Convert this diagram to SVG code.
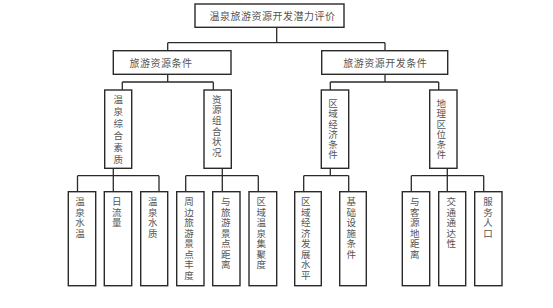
<svg xmlns="http://www.w3.org/2000/svg" width="553" height="308" viewBox="0 0 553 308">
<style>
rect{fill:#fff;stroke:#2a2a2a;stroke-width:1.4}
.c{fill:none;stroke:#2a2a2a;stroke-width:1.3}
text{font-family:"Noto Sans CJK SC","Noto Sans CJK TC",sans-serif;font-size:10px;fill:#555;text-anchor:middle}
.h{letter-spacing:0.5px}
.v{font-size:9.5px;writing-mode:vertical-rl;text-orientation:upright;text-anchor:start}
.v1{letter-spacing:2.5px}
.v2{letter-spacing:1.2px}
.v3{letter-spacing:0.8px}
.v4{letter-spacing:1px}
</style>
<rect x="0" y="0" width="553" height="308" style="fill:#fff;stroke:none"/>
<g id="connectors">
<path class="c" d="M276.7,27.3V42.7M167.7,42.7H385M167.7,42.7V50.7M385,42.7V50.7"/>
<path class="c" d="M167.7,74.3V82M122.3,82H213.3M122.3,82V90M213.3,82V90"/>
<path class="c" d="M385,74.3V82M330.3,82H438.7M330.3,82V90M438.7,82V90"/>
<path class="c" d="M113.3,168.3V175.7M77.5,175.7H159M77.5,175.7V191.7M113.3,175.7V191.7M159,175.7V191.7"/>
<path class="c" d="M222.3,168.3V175.7M185.7,175.7H258.3M185.7,175.7V191.7M222.3,175.7V191.7M258.3,175.7V191.7"/>
<path class="c" d="M330.3,168.3V175.7M303.7,175.7H348.7M303.7,175.7V191.7M348.7,175.7V191.7"/>
<path class="c" d="M447.3,168.3V175.7M411.3,175.7H483.7M411.3,175.7V191.7M447.3,175.7V191.7M483.7,175.7V191.7"/>
</g>
<g id="root"><rect x="195" y="4" width="149" height="23.3"/><text class="h" x="272.5" y="19.5">温泉旅游资源开发潜力评价</text></g>
<g id="n1"><rect x="113.3" y="50.7" width="117.7" height="23.6"/><text class="h" x="161" y="66.5">旅游资源条件</text></g>
<g id="n2"><rect x="321.7" y="50.7" width="126" height="23.6"/><text class="h" x="385.3" y="66.5">旅游资源开发条件</text></g>
<g id="n11"><rect x="104.7" y="90" width="27" height="78.3"/><text class="v v1" x="118.3" y="94.3">温泉综合素质</text></g>
<g id="n12"><rect x="204" y="90" width="27.3" height="78.3"/><text class="v v2" x="216.7" y="94.3">资源组合状况</text></g>
<g id="n21"><rect x="321.3" y="90" width="27.4" height="78.3"/><text class="v v3" x="333" y="98.6">区域经济条件</text></g>
<g id="n22"><rect x="429.7" y="90" width="27.3" height="78.3"/><text class="v v3" x="441.3" y="98.6">地理区位条件</text></g>
<g id="l1"><rect x="68.3" y="191.7" width="27.4" height="94"/><text class="v v4" x="80" y="197">温泉水温</text></g>
<g id="l2"><rect x="104.3" y="191.7" width="27.4" height="94"/><text class="v v4" x="116.7" y="197">日流量</text></g>
<g id="l3"><rect x="140.7" y="191.7" width="27" height="94"/><text class="v v4" x="152.7" y="197">温泉水质</text></g>
<g id="l4"><rect x="176.7" y="191.7" width="27.3" height="94"/><text class="v v4" x="189" y="197">周边旅游景点丰度</text></g>
<g id="l5"><rect x="212.7" y="191.7" width="27.3" height="94"/><text class="v v4" x="225.7" y="197">与旅游景点距离</text></g>
<g id="l6"><rect x="249" y="191.7" width="27.7" height="94"/><text class="v v4" x="261.3" y="197">区域温泉集聚度</text></g>
<g id="l7"><rect x="294.7" y="191.7" width="26.6" height="94"/><text class="v v4" x="305.7" y="197">区域经济发展水平</text></g>
<g id="l8"><rect x="339.7" y="191.7" width="26.6" height="94"/><text class="v v4" x="351.3" y="197">基础设施条件</text></g>
<g id="l9"><rect x="402.3" y="191.7" width="27.4" height="94"/><text class="v v4" x="414.7" y="197">与客源地距离</text></g>
<g id="l10"><rect x="438.7" y="191.7" width="27" height="94"/><text class="v v4" x="451.3" y="197">交通通达性</text></g>
<g id="l11"><rect x="474.7" y="191.7" width="27.3" height="94"/><text class="v v4" x="488" y="197">服务人口</text></g>
</svg>
